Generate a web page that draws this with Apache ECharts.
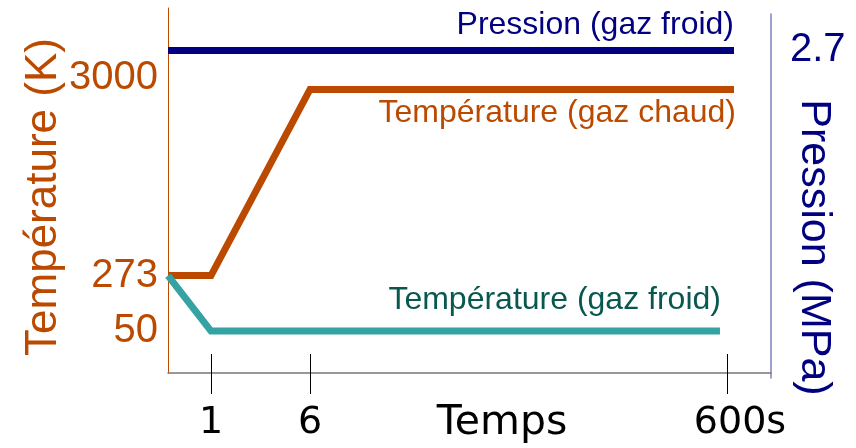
<!DOCTYPE html>
<html>
<head>
<meta charset="utf-8">
<script src="https://cdn.jsdelivr.net/npm/echarts@6/dist/echarts.min.js"></script>
<style>
  html, body { margin: 0; padding: 0; background: #ffffff; }
  #chart { width: 856px; height: 448px; }
</style>
</head>
<body>
<div id="chart"></div>
<script>
// Time ticks (s) shown on the schematic time axis
const timeTicks = [1, 6, 600];
const timeTickLabels = ['1', '6', '600s'];

// Temperature ticks (K) on the left axis
const tempTicks = [50, 273, 3000];
const tempTickLabels = ['50', '273', '3000'];

// Pressure tick (MPa) on the right axis
const pressureTicks = [2.7];
const pressureTickLabels = ['2.7'];

// Hot gas temperature (K) over time (s)
const hotTimes = [0, 1, 6, 610];
const hotTemps = [273, 273, 3000, 3000];

// Cold gas temperature (K) over time (s)
const coldTimes = [0, 1, 590];
const coldTemps = [273, 50, 50];

// Cold gas pressure (MPa) over time (s)
const pressureTimes = [0, 610];
const pressureValues = [2.7, 2.7];

// The time and temperature axes are not to scale: each known value is
// placed at a fraction of the axis length and the rest is interpolated.
const timeScaleStops = [0, 1, 6, 600];
const timeScaleFrac = [0, 0.0713, 0.2355, 0.927];
const tempScaleStops = [0, 50, 273, 3000];
const tempScaleFrac = [0, 0.115, 0.267, 0.777];

function piecewise(v, stops, fracs) {
  let i = 0;
  while (i < stops.length - 2 && v > stops[i + 1]) i++;
  const t = (v - stops[i]) / (stops[i + 1] - stops[i]);
  return fracs[i] + t * (fracs[i + 1] - fracs[i]);
}
const tx = t => piecewise(t, timeScaleStops, timeScaleFrac);
const ty = k => piecewise(k, tempScaleStops, tempScaleFrac);

function labelFor(v, positions, labels) {
  let best = 0;
  for (let i = 1; i < positions.length; i++) {
    if (Math.abs(positions[i] - v) < Math.abs(positions[best] - v)) best = i;
  }
  return labels[best];
}

const timeTickPos = timeTicks.map(tx);
const tempTickPos = tempTicks.map(ty);

const ORANGE = '#bb4a00';
const TEAL = '#35a3a3';
const TEAL_TEXT = '#085850';
const NAVY = '#000080';
const SANS = '"Liberation Sans", Arial, sans-serif';
const DEJAVU = '"DejaVu Sans", sans-serif';

const chart = echarts.init(document.getElementById('chart'), null, { renderer: 'canvas' });

const option = {
  animation: false,
  backgroundColor: '#ffffff',
  grid: [
    { left: 168, right: 85, top: 8, bottom: 75, outerBoundsMode: 'none', containLabel: false },
    { left: 168, right: 85, top: 14, bottom: 70, outerBoundsMode: 'none', containLabel: false }
  ],
  xAxis: [
    {
      // main time axis: line and inner half of ticks
      type: 'value', gridIndex: 0, position: 'bottom', min: 0, max: 1,
      splitLine: { show: false },
      axisLine: { show: true, onZero: false, lineStyle: { color: '#777777', width: 1.5 } },
      axisTick: { show: true, inside: true, length: 19, customValues: timeTickPos,
                  lineStyle: { color: '#000000', width: 1 } },
      axisLabel: { show: false }
    },
    {
      // outer half of ticks, tick labels and axis name
      type: 'value', gridIndex: 0, position: 'bottom', min: 0, max: 1,
      splitLine: { show: false },
      axisLine: { show: false, onZero: false },
      axisTick: { show: true, inside: false, length: 21, customValues: timeTickPos,
                  lineStyle: { color: '#000000', width: 1 } },
      axisLabel: {
        show: true, customValues: timeTickPos, margin: 31,
        color: '#000000', fontFamily: DEJAVU, fontSize: 38,
        formatter: v => {
          const s = labelFor(v, timeTickPos, timeTickLabels);
          return s === timeTickLabels[timeTickLabels.length - 1] ? '{last|' + s + '}' : s;
        },
        rich: { last: { color: '#000000', fontFamily: DEJAVU, fontSize: 38, padding: [0, 0, 0, 26] } }
      },
      name: 'Temps', nameLocation: 'middle', nameGap: 30, nameMoveOverlap: false,
      nameTextStyle: { color: '#000000', fontFamily: DEJAVU, fontSize: 41, padding: [0, 0, 0, 65] }
    },
    {
      type: 'value', gridIndex: 1, min: 0, max: 1, show: false
    }
  ],
  yAxis: [
    {
      type: 'value', gridIndex: 0, position: 'left', min: 0, max: 1,
      splitLine: { show: false },
      axisLine: { show: true, onZero: false, lineStyle: { color: ORANGE, width: 1 } },
      axisTick: { show: false },
      axisLabel: {
        show: true, customValues: tempTickPos, margin: 10,
        color: ORANGE, fontFamily: SANS, fontSize: 40,
        formatter: v => {
          const s = labelFor(v, tempTickPos, tempTickLabels);
          return s === '3000' ? '{up|' + s + '}' : s;
        },
        rich: { up: { color: ORANGE, fontFamily: SANS, fontSize: 40, padding: [0, 0, 22, 0] } }
      },
      name: 'Température (K)', nameLocation: 'middle', nameGap: 102, nameMoveOverlap: false,
      nameTextStyle: { color: ORANGE, fontFamily: SANS, fontSize: 44, padding: [0, 13, 0, 0] }
    },
    {
      type: 'value', gridIndex: 1, position: 'right', min: 0, max: 3,
      splitLine: { show: false },
      axisLine: { show: true, onZero: false, lineStyle: { color: '#8080c0', width: 1.5 } },
      axisTick: { show: false },
      axisLabel: {
        show: true, customValues: pressureTicks, margin: 19,
        color: NAVY, fontFamily: SANS, fontSize: 40,
        formatter: v => labelFor(v, pressureTicks, pressureTickLabels)
      },
      name: 'Pression (MPa)', nameLocation: 'middle', nameGap: 21, nameRotate: -90, nameMoveOverlap: false,
      nameTextStyle: { color: NAVY, fontFamily: SANS, fontSize: 43, padding: [0, 0, 0, 103] }
    }
  ],
  series: [
    {
      name: 'Pression (gaz froid)', type: 'line', xAxisIndex: 2, yAxisIndex: 1,
      data: pressureTimes.map((t, i) => [tx(t), pressureValues[i]]),
      showSymbol: false, symbol: 'none',
      lineStyle: { color: NAVY, width: 7, join: 'miter', cap: 'butt' },
      endLabel: { show: true, formatter: 'Pression (gaz froid)', align: 'right', verticalAlign: 'middle',
                  distance: 0, offset: [0, -25], color: NAVY, fontFamily: SANS, fontSize: 32 }
    },
    {
      name: 'Température (gaz chaud)', type: 'line', xAxisIndex: 0, yAxisIndex: 0,
      data: hotTimes.map((t, i) => [tx(t), ty(hotTemps[i])]),
      showSymbol: false, symbol: 'none',
      lineStyle: { color: ORANGE, width: 7, join: 'miter', cap: 'butt' },
      endLabel: { show: true, formatter: 'Température (gaz chaud)', align: 'right', verticalAlign: 'middle',
                  distance: 0, offset: [2, 24], color: ORANGE, fontFamily: SANS, fontSize: 32 }
    },
    {
      name: 'Température (gaz froid)', type: 'line', xAxisIndex: 0, yAxisIndex: 0,
      data: coldTimes.map((t, i) => [tx(t), ty(coldTemps[i])]),
      showSymbol: false, symbol: 'none',
      lineStyle: { color: TEAL, width: 7, join: 'miter', cap: 'butt' },
      endLabel: { show: true, formatter: 'Température (gaz froid)', align: 'right', verticalAlign: 'middle',
                  distance: 0, offset: [1, -31], color: TEAL_TEXT, fontFamily: SANS, fontSize: 32 }
    }
  ]
};

chart.setOption(option);
</script>
</body>
</html>
